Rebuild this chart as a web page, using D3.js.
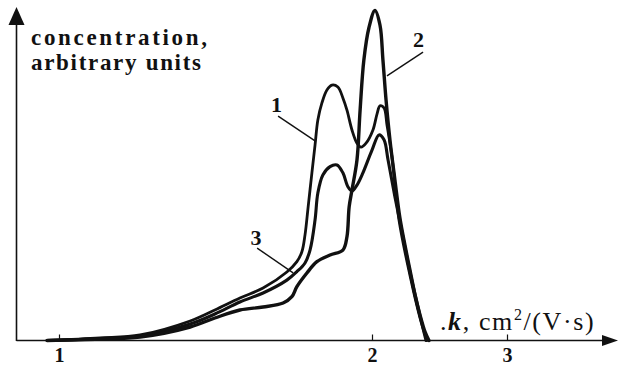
<!DOCTYPE html>
<html>
<head>
<meta charset="utf-8">
<script src="https://cdn.jsdelivr.net/npm/d3@7"></script>
<style>
  html, body { margin: 0; padding: 0; background: #fff; }
  svg { display: block; }
</style>
</head>
<body>
<svg id="chart" width="619" height="365"></svg>
<script>
// ---- data (k in cm^2/(V·s), concentration in arbitrary units) ----
const tickValues = [1, 2, 3];
const tickLabels = ["1", "2", "3"];

const curve1 = [
  [0.962, 0], [1.131, 0.76], [1.259, 1.67], [1.419, 5.91], [1.498, 9.24], [1.578, 12.88],
  [1.652, 15.9], [1.728, 20.76], [1.760, 23.9], [1.776, 26.9], [1.786, 32], [1.796, 40.5],
  [1.808, 50.8], [1.818, 59.2], [1.827, 66.8], [1.840, 72], [1.856, 75.9], [1.872, 77.4],
  [1.891, 76.8], [1.907, 73.5], [1.920, 69.8], [1.936, 63.8], [1.952, 59.8], [1.965, 58.6],
  [1.981, 59.8], [2.007, 63.8], [2.037, 68.6], [2.059, 71.1], [2.089, 70.5], [2.111, 65.3],
  [2.148, 55.6], [2.200, 36.5], [2.281, 19.8], [2.356, 6.8], [2.407, 0]
];
const curve2 = [
  [0.962, 0], [1.131, 0.45], [1.259, 1.06], [1.419, 4.09], [1.498, 6.82], [1.578, 9.24],
  [1.652, 10.15], [1.716, 11.36], [1.744, 13.27], [1.760, 16.3], [1.792, 20.45], [1.824, 23.88],
  [1.866, 25.9], [1.907, 27.4], [1.920, 31.45], [1.927, 40.5], [1.936, 45.6], [1.952, 54.7],
  [1.962, 69.8], [1.974, 85], [1.990, 94.7], [2.022, 100], [2.059, 95.6], [2.081, 85],
  [2.104, 72.9], [2.133, 60.8], [2.170, 48.6], [2.207, 37.1], [2.244, 28.9], [2.281, 21.4],
  [2.319, 13.8], [2.356, 7.7], [2.393, 2.6], [2.422, 0]
];
const curve3 = [
  [0.962, 0], [1.131, 0.6], [1.259, 1.36], [1.419, 5.0], [1.498, 8.03], [1.578, 11.67],
  [1.652, 14.4], [1.728, 18.3], [1.760, 20.85], [1.786, 23.5], [1.802, 27.4], [1.818, 36.5],
  [1.827, 44.7], [1.843, 50.15], [1.866, 52.7], [1.888, 53.2], [1.907, 50.8], [1.923, 46.6],
  [1.936, 45.3], [1.952, 47.1], [1.971, 50.8], [2.000, 57.7], [2.052, 62.3], [2.089, 60.8],
  [2.119, 54.7], [2.170, 43.5], [2.207, 36], [2.281, 20.8], [2.356, 7.4], [2.400, 0]
];

// curve labels: [label, textK, textV, leaderFromK, leaderFromV, leaderToK, leaderToV]
const curveLabels = [
  ["1", 1.695, 69.2, 1.700, 68.0, 1.818, 60.5],
  ["2", 2.344, 88.9, 2.378, 87.4, 2.111, 80.2],
  ["3", 1.629, 28.9, 1.633, 28.0, 1.748, 20.5]
];

const yTitle = ["concentration,", "arbitrary units"];

// ---- drawing ----
const svg = d3.select("#chart");
const serif = "'Liberation Serif', 'Times New Roman', serif";
const x = d3.scaleLinear().domain([1, 2, 3]).range([59, 372, 507]);
const y = d3.scaleLinear().domain([0, 100]).range([340.5, 10.5]);

const x0 = 16.5, yBase = y(0);

// axes lines with arrows
svg.append("line").attr("x1", x0).attr("x2", x0).attr("y1", yBase + 0.5).attr("y2", 22)
  .attr("stroke", "#111").attr("stroke-width", 1.6);
svg.append("path").attr("d", `M${x0},7 L${x0 - 8},25 L${x0 + 8},25 Z`).attr("fill", "#111");
svg.append("line").attr("x1", x0).attr("x2", 605).attr("y1", yBase).attr("y2", yBase)
  .attr("stroke", "#111").attr("stroke-width", 1.6);
svg.append("path").attr("d", `M618,${yBase} L602,${yBase - 5.5} L602,${yBase + 5.5} Z`).attr("fill", "#111");

// x ticks
const xAxis = d3.axisBottom(x).tickValues(tickValues).tickFormat((d, i) => tickLabels[i])
  .tickSize(-6).tickPadding(7.5).tickSizeOuter(0);
const gx = svg.append("g").attr("transform", `translate(0,${yBase})`).call(xAxis);
gx.select(".domain").remove();
gx.selectAll(".tick line").attr("stroke", "#111").attr("stroke-width", 1.2);
gx.selectAll(".tick text").attr("font-family", serif).attr("font-weight", "bold")
  .attr("font-size", 20).attr("fill", "#111");

// curves
const line = d3.line().x(d => x(d[0])).y(d => y(d[1])).curve(d3.curveCatmullRom.alpha(0.5));
[[curve1, 2.8], [curve3, 3.1], [curve2, 3.4]].forEach(([c, w]) => {
  svg.append("path").attr("d", line(c)).attr("fill", "none").attr("stroke", "#111")
    .attr("stroke-width", w).attr("stroke-linejoin", "round").attr("stroke-linecap", "round");
});

// curve labels and leaders
curveLabels.forEach(([t, tk, tv, fk, fv, ek, ev]) => {
  svg.append("line").attr("x1", x(fk)).attr("y1", y(fv)).attr("x2", x(ek)).attr("y2", y(ev))
    .attr("stroke", "#111").attr("stroke-width", 1.4);
  svg.append("text").attr("x", x(tk)).attr("y", y(tv)).attr("text-anchor", "middle")
    .attr("font-family", serif).attr("font-weight", "bold").attr("fill", "#111")
    .attr("font-size", 22).text(t);
});

// y title
svg.append("text").attr("x", 31).attr("y", 45).attr("font-family", serif).attr("font-weight", "bold")
  .attr("fill", "#111").attr("font-size", 23)
  .attr("textLength", 176).attr("lengthAdjust", "spacing").text(yTitle[0]);
svg.append("text").attr("x", 31).attr("y", 70).attr("font-family", serif).attr("font-weight", "bold")
  .attr("fill", "#111").attr("font-size", 23)
  .attr("textLength", 170).attr("lengthAdjust", "spacing").text(yTitle[1]);

// x title
const xt = svg.append("text").attr("x", 440).attr("y", 330).attr("font-family", serif)
  .attr("font-size", 26).attr("fill", "#111").attr("letter-spacing", 1.6);
xt.append("tspan").text(".");
xt.append("tspan").attr("font-style", "italic").attr("font-weight", "bold").text("k");
xt.append("tspan").text(", cm");
xt.append("tspan").attr("dy", -10).attr("font-size", 16).text("2");
xt.append("tspan").attr("dy", 10).text("/(V·s)");
</script>
</body>
</html>
